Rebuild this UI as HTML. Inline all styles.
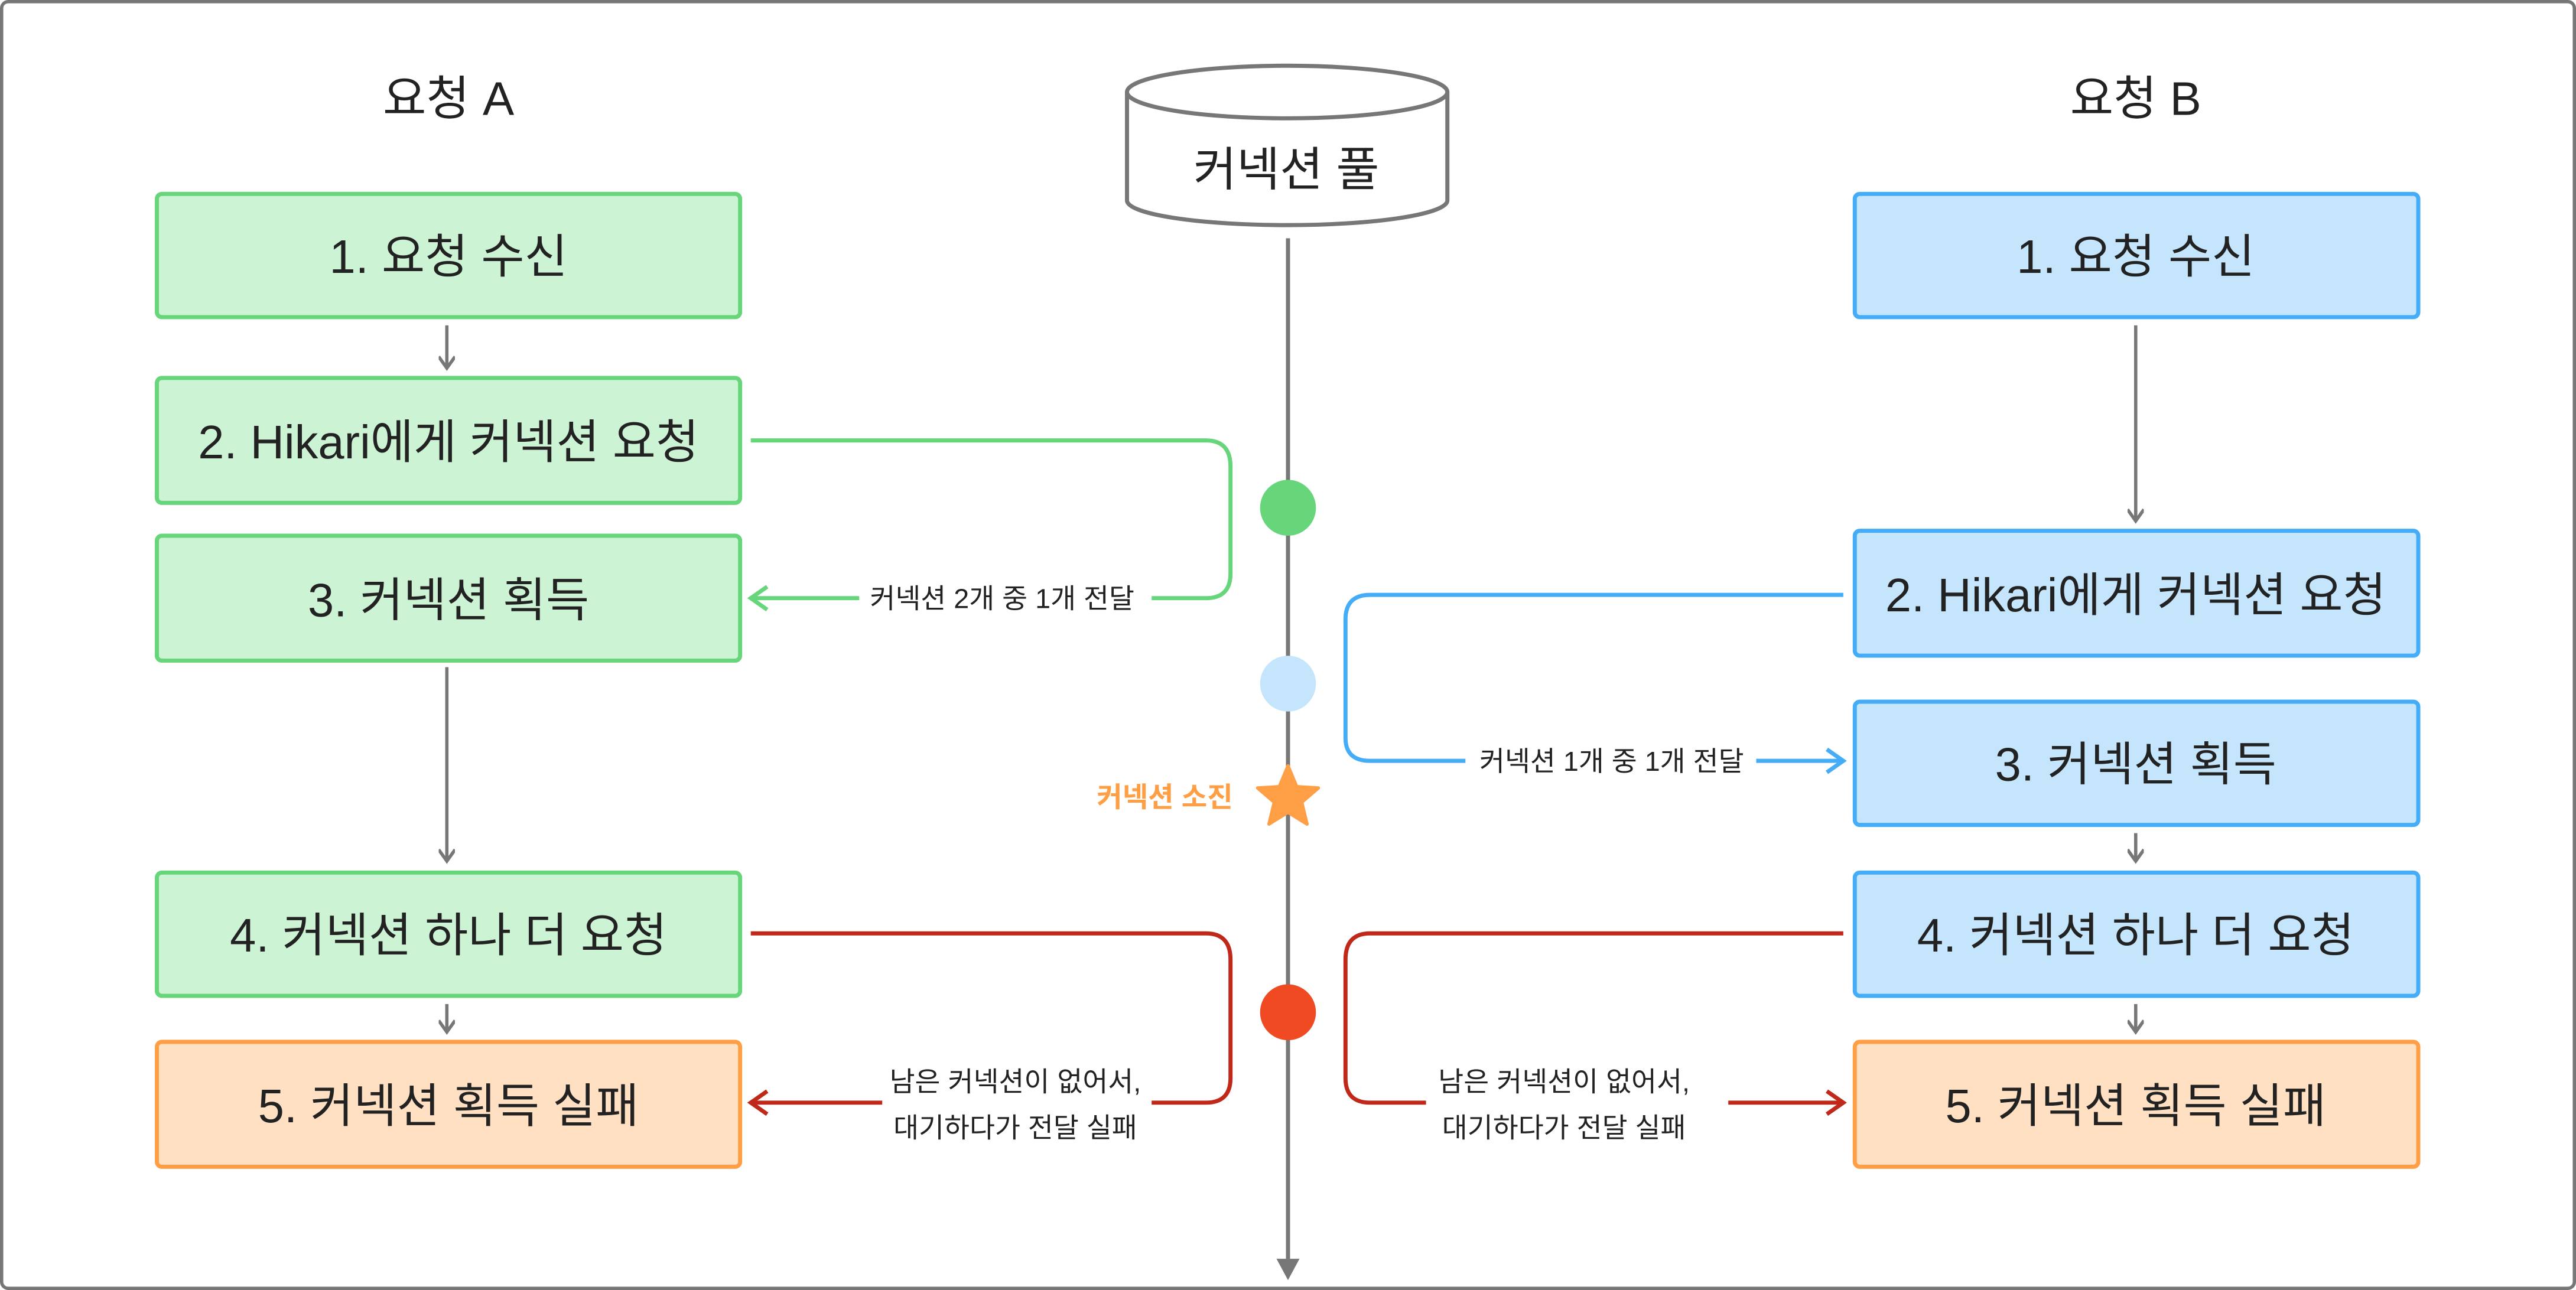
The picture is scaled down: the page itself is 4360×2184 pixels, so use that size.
<!DOCTYPE html>
<html><head><meta charset="utf-8"><style>
html,body{margin:0;padding:0;background:#fff}
svg{display:block}
text{font-family:"Liberation Sans","Noto Sans CJK KR",sans-serif;fill:#222}
</style></head><body>
<svg width="4360" height="2184" viewBox="0 0 1568 785" preserveAspectRatio="none" xmlns="http://www.w3.org/2000/svg">
<defs>
<marker id="ag" markerWidth="10" markerHeight="10" refX="8" refY="5" orient="auto" markerUnits="userSpaceOnUse"><path d="M1,0 L8,5 L1,10" fill="none" stroke="#777" stroke-width="2"/></marker>
<marker id="agr" markerWidth="14" markerHeight="16" refX="12" refY="8" orient="auto" markerUnits="userSpaceOnUse"><path d="M2,1 L12,8 L2,15" fill="none" stroke="#67d57a" stroke-width="2.5"/></marker>
<marker id="abl" markerWidth="14" markerHeight="16" refX="12" refY="8" orient="auto" markerUnits="userSpaceOnUse"><path d="M2,1 L12,8 L2,15" fill="none" stroke="#45adf7" stroke-width="2.5"/></marker>
<marker id="ard" markerWidth="14" markerHeight="16" refX="12" refY="8" orient="auto" markerUnits="userSpaceOnUse"><path d="M2,1 L12,8 L2,15" fill="none" stroke="#c0291a" stroke-width="2.5"/></marker>
</defs>
<rect x="1" y="1" width="1566" height="783" rx="4" fill="#fff" stroke="#777" stroke-width="2"/>
<text x="273" y="70" font-size="28.7" text-anchor="middle">요청 A</text>
<text x="1300" y="70" font-size="28.7" text-anchor="middle">요청 B</text>
<path d="M686,56 L686,122 A97.5,15 0 0 0 881,122 L881,56" fill="#fff" stroke="#777" stroke-width="2.5"/>
<ellipse cx="783.5" cy="56" rx="97.5" ry="16" fill="#fff" stroke="#777" stroke-width="2.5"/>
<text x="783" y="113" font-size="28.6" text-anchor="middle">커넥션 풀</text>
<line x1="784" y1="145" x2="784" y2="766" stroke="#777" stroke-width="2.5"/>
<path d="M777,766 L791,766 L784,779 Z" fill="#777"/>
<g stroke-width="2.5">
<rect x="95.5" y="118" width="355" height="75" rx="3" fill="#cdf3d5" stroke="#67d57a"/>
<rect x="95.5" y="230" width="355" height="76" rx="3" fill="#cdf3d5" stroke="#67d57a"/>
<rect x="95.5" y="326" width="355" height="76" rx="3" fill="#cdf3d5" stroke="#67d57a"/>
<rect x="95.5" y="531" width="355" height="75" rx="3" fill="#cdf3d5" stroke="#67d57a"/>
<rect x="95.5" y="634" width="355" height="76" rx="3" fill="#ffe0c2" stroke="#ff9f45"/>
<rect x="1129" y="118" width="343" height="75" rx="3" fill="#c5e5fc" stroke="#45adf7"/>
<rect x="1129" y="323" width="343" height="76" rx="3" fill="#c5e5fc" stroke="#45adf7"/>
<rect x="1129" y="427" width="343" height="75" rx="3" fill="#c5e5fc" stroke="#45adf7"/>
<rect x="1129" y="531" width="343" height="75" rx="3" fill="#c5e5fc" stroke="#45adf7"/>
<rect x="1129" y="634" width="343" height="76" rx="3" fill="#ffe0c2" stroke="#ff9f45"/>
</g>
<g font-size="28.6" text-anchor="middle">
<text x="273" y="166">1. 요청 수신</text>
<text x="273" y="279">2. Hikari에게 커넥션 요청</text>
<text x="273" y="375">3. 커넥션 획득</text>
<text x="273" y="579">4. 커넥션 하나 더 요청</text>
<text x="273" y="683">5. 커넥션 획득 실패</text>
<text x="1300" y="166">1. 요청 수신</text>
<text x="1300" y="372">2. Hikari에게 커넥션 요청</text>
<text x="1300" y="475">3. 커넥션 획득</text>
<text x="1300" y="579">4. 커넥션 하나 더 요청</text>
<text x="1300" y="683">5. 커넥션 획득 실패</text>
</g>
<g stroke="#777" stroke-width="2" marker-end="url(#ag)">
<line x1="272" y1="198" x2="272" y2="224"/>
<line x1="272" y1="406" x2="272" y2="524"/>
<line x1="272" y1="611" x2="272" y2="628"/>
<line x1="1300" y1="198" x2="1300" y2="317"/>
<line x1="1300" y1="507" x2="1300" y2="524"/>
<line x1="1300" y1="611" x2="1300" y2="628"/>
</g>
<path d="M457,268 L734,268 Q749,268 749,284 L749,349 Q749,364 734,364 L701,364" fill="none" stroke="#67d57a" stroke-width="2.5"/>
<line x1="523" y1="364" x2="457" y2="364" stroke="#67d57a" stroke-width="2.5" marker-end="url(#agr)"/>
<text x="610" y="370" font-size="16.8" text-anchor="middle">커넥션 2개 중 1개 전달</text>
<path d="M1122,362 L834,362 Q819,362 819,377 L819,449 Q819,463 834,463 L892,463" fill="none" stroke="#45adf7" stroke-width="2.5"/>
<line x1="1069" y1="463" x2="1122" y2="463" stroke="#45adf7" stroke-width="2.5" marker-end="url(#abl)"/>
<text x="981" y="469" font-size="16.8" text-anchor="middle">커넥션 1개 중 1개 전달</text>
<path d="M457,568 L734,568 Q749,568 749,584 L749,656 Q749,671 734,671 L701,671" fill="none" stroke="#c0291a" stroke-width="2.5"/>
<line x1="537" y1="671" x2="457" y2="671" stroke="#c0291a" stroke-width="2.5" marker-end="url(#ard)"/>
<text x="618" y="664" font-size="16.8" text-anchor="middle">남은 커넥션이 없어서,</text>
<text x="618" y="692" font-size="16.8" text-anchor="middle">대기하다가 전달 실패</text>
<path d="M1122,568 L834,568 Q819,568 819,584 L819,656 Q819,671 834,671 L868,671" fill="none" stroke="#c0291a" stroke-width="2.5"/>
<line x1="1052" y1="671" x2="1122" y2="671" stroke="#c0291a" stroke-width="2.5" marker-end="url(#ard)"/>
<text x="952" y="664" font-size="16.8" text-anchor="middle">남은 커넥션이 없어서,</text>
<text x="952" y="692" font-size="16.8" text-anchor="middle">대기하다가 전달 실패</text>
<circle cx="784" cy="309" r="17" fill="#67d57a"/>
<circle cx="784" cy="416" r="17" fill="#c5e5fc"/>
<path d="M784,466 L789.3,478.7 L802.5,479.5 L792.4,488.2 L795.6,501.5 L784,494.3 L772.4,501.5 L775.6,488.2 L765.5,479.5 L778.7,478.7 Z" fill="#ff9f45" stroke="#ff9f45" stroke-width="2" stroke-linejoin="round"/>
<text x="709" y="491" font-size="17" font-weight="bold" text-anchor="middle" style="fill:#ff9f45">커넥션 소진</text>
<circle cx="784" cy="616" r="17" fill="#f04a23"/>
</svg>
</body></html>
